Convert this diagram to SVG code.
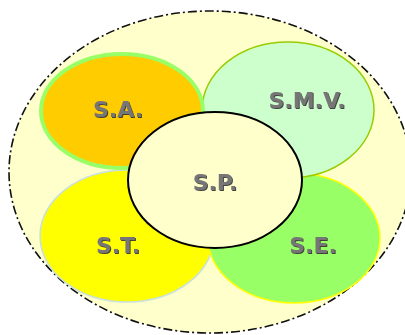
<svg xmlns="http://www.w3.org/2000/svg" width="405" height="335" viewBox="0 0 405 335">
<defs>
<filter id="sh" x="-10%" y="-20%" width="130%" height="150%">
<feDropShadow dx="1" dy="1" stdDeviation="0.4" flood-color="#303030" flood-opacity="0.9"/>
</filter>
</defs>
<style>
.lbl{font-family:"DejaVu Sans","Liberation Sans",sans-serif;font-weight:bold;font-size:22px;fill:#767676;text-anchor:middle;filter:url(#sh)}
</style>
<rect width="405" height="335" fill="#ffffff"/>
<g id="outer">
<ellipse cx="210" cy="172" rx="201" ry="161" fill="#FFFFCC" stroke="#111" stroke-width="1.6" stroke-dasharray="9 3 2 3"/>
</g>
<g id="st">
<ellipse cx="127" cy="236" rx="87" ry="66" fill="#FFFF00" stroke="#C8E0E0" stroke-width="1.5"/>
<text class="lbl" x="118" y="253">S.T.</text>
</g>
<g id="se">
<ellipse cx="294" cy="238" rx="86" ry="65" fill="#99FF66" stroke="#FFFF00" stroke-width="1.5"/>
<text class="lbl" x="313" y="253">S.E.</text>
</g>
<g id="smv">
<ellipse cx="288" cy="110" rx="86" ry="68" fill="#CCFFCC" stroke="#99CC00" stroke-width="1.5"/>
<text class="lbl" x="307" y="108">S.M.V.</text>
</g>
<g id="sa">
<ellipse cx="122" cy="111" rx="81" ry="57" fill="#FFCC00" stroke="#99FF66" stroke-width="4"/>
<text class="lbl" x="118" y="117">S.A.</text>
</g>
<g id="sp">
<ellipse cx="215" cy="180" rx="87" ry="68" fill="#FFFFCC" stroke="#000" stroke-width="2"/>
<text class="lbl" x="215" y="190">S.P.</text>
</g>
<g id="connectors"/>
</svg>
